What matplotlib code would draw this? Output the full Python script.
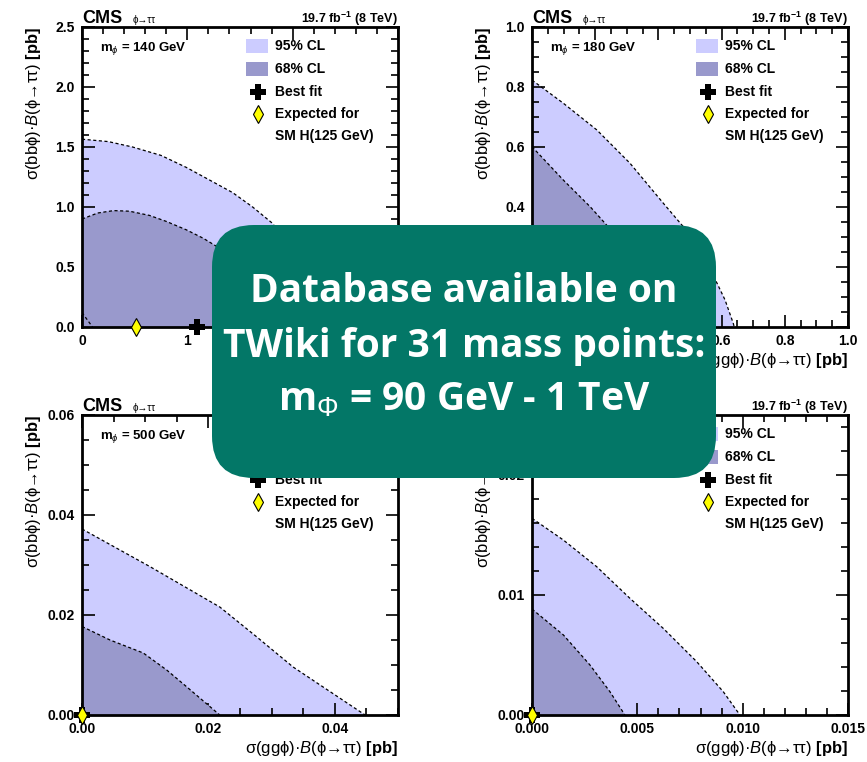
import numpy as np
import matplotlib.pyplot as plt
from matplotlib.patches import Rectangle, FancyBboxPatch
from matplotlib.ticker import MultipleLocator, FormatStrFormatter

plt.rcParams['font.family'] = ['Liberation Sans', 'DejaVu Sans']
plt.rcParams['mathtext.fontset'] = 'custom'
plt.rcParams['mathtext.rm'] = 'Liberation Sans'
plt.rcParams['mathtext.it'] = 'Liberation Sans:italic'
plt.rcParams['mathtext.bf'] = 'Liberation Sans:bold'

# panel data
masses = ['140', '180', '500', '1000']

cl95_x_140 = [0.0, 0.25, 0.48, 0.75, 0.99, 1.20, 1.43, 1.62, 1.80, 1.95, 2.10, 2.22, 2.32, 2.38, 2.40]
cl95_y_140 = [1.565, 1.545, 1.50, 1.43, 1.33, 1.23, 1.12, 1.00, 0.87, 0.72, 0.55, 0.38, 0.20, 0.08, 0.0]
cl68_x_140 = [0.0, 0.15, 0.30, 0.45, 0.64, 0.80, 0.99, 1.15, 1.30, 1.45, 1.60, 1.72, 1.80, 1.86, 1.88]
cl68_y_140 = [0.90, 0.95, 0.97, 0.965, 0.93, 0.88, 0.81, 0.74, 0.66, 0.56, 0.45, 0.32, 0.20, 0.09, 0.0]
inner_x_140 = [0.0, 0.05, 0.10]
inner_y_140 = [0.12, 0.06, 0.0]

cl95_x_180 = [0.0, 0.099, 0.205, 0.31, 0.416, 0.479, 0.53, 0.57, 0.611, 0.637, 0.64]
cl95_y_180 = [0.823, 0.746, 0.657, 0.546, 0.412, 0.334, 0.26, 0.18, 0.09, 0.012, 0.0]
cl68_x_180 = [0.0, 0.099, 0.184, 0.236, 0.29, 0.33, 0.36, 0.37]
cl68_y_180 = [0.601, 0.49, 0.401, 0.34, 0.24, 0.14, 0.05, 0.0]

cl95_x_500 = [0.0, 0.01076, 0.0218, 0.0276, 0.0334, 0.0448]
cl95_y_500 = [0.0372, 0.02967, 0.0216, 0.01567, 0.0096, 0.0]
cl68_x_500 = [0.0, 0.00443, 0.0097, 0.0134, 0.0166, 0.0218]
cl68_y_500 = [0.0177, 0.0150, 0.0124, 0.0090, 0.0056, 0.0]

cl95_x_1000 = [0.0, 0.00149, 0.00307, 0.00465, 0.00623, 0.00782, 0.00908, 0.00987]
cl95_y_1000 = [0.01639, 0.01458, 0.01236, 0.00972, 0.00722, 0.00444, 0.00194, 0.0]
cl68_x_1000 = [0.0, 0.00149, 0.00275, 0.0037, 0.00441]
cl68_y_1000 = [0.00883, 0.00667, 0.00417, 0.00194, 0.0]

best_fit = [(1.09, 0.0), (0.15, 0.0), (0.0, 0.0), (0.0, 0.0)]
sm_expected = [(0.51, 0.0), (0.03, 0.0), (0.0, 0.0), (0.0, 0.0)]

xlims = [3.0, 1.0, 0.05, 0.015]
ylims = [2.5, 1.0, 0.06, 0.025]
x_major = [1.0, 0.2, 0.02, 0.005]
x_minor = [0.2, 0.05, 0.005, 0.001]
y_major = [0.5, 0.2, 0.02, 0.01]
y_minor = [0.1, 0.05, 0.005, 0.002]
x_fmt = ['%.0f', '%.1f', '%.2f', '%.3f']
y_fmt = ['%.1f', '%.1f', '%.2f', '%.2f']

curves95 = [(cl95_x_140, cl95_y_140), (cl95_x_180, cl95_y_180),
            (cl95_x_500, cl95_y_500), (cl95_x_1000, cl95_y_1000)]
curves68 = [(cl68_x_140, cl68_y_140), (cl68_x_180, cl68_y_180),
            (cl68_x_500, cl68_y_500), (cl68_x_1000, cl68_y_1000)]

c95 = '#ccccff'
c68 = '#9999cc'

W, H = 867, 762
fig = plt.figure(figsize=(W / 100, H / 100), dpi=100)

# axes boxes in pixels: left, top
boxes = [(82, 27), (532, 27), (82, 415), (532, 415)]
aw, ah = 316, 300

ylab = r'$\mathrm{σ(bbϕ)·}\mathit{B}\mathrm{(ϕ→ττ)}\ \mathbf{[pb]}$'
xlab = r'$\mathrm{σ(ggϕ)·}\mathit{B}\mathrm{(ϕ→ττ)}\ \mathbf{[pb]}$'

for i in range(4):
    l, t = boxes[i]
    ax = fig.add_axes([l / W, (H - t - ah) / H, aw / W, ah / H])
    ax.set_xlim(0, xlims[i])
    ax.set_ylim(0, ylims[i])

    x95, y95 = curves95[i]
    x68, y68 = curves68[i]
    ax.fill(np.r_[0, x95], np.r_[0, y95], color=c95, lw=0, zorder=1)
    ax.fill(np.r_[0, x68], np.r_[0, y68], color=c68, lw=0, zorder=2)
    ax.plot(x95, y95, color='black', ls=(0, (2.5, 2)), lw=0.9, zorder=3)
    ax.plot(x68, y68, color='black', ls=(0, (2.5, 2)), lw=0.9, zorder=3)
    if i == 0:
        ax.plot(inner_x_140, inner_y_140, color='black', ls=(0, (2.5, 2)), lw=0.9, zorder=3)

    ax.plot(*best_fit[i], marker='P', ms=12, color='black', mew=0, clip_on=False, zorder=8)
    ax.plot(*sm_expected[i], marker='d', ms=9, mfc='#ffff00', mec='black', mew=0.8,
            clip_on=False, zorder=9)

    ax.xaxis.set_major_locator(MultipleLocator(x_major[i]))
    ax.xaxis.set_minor_locator(MultipleLocator(x_minor[i]))
    ax.yaxis.set_major_locator(MultipleLocator(y_major[i]))
    ax.yaxis.set_minor_locator(MultipleLocator(y_minor[i]))
    ax.xaxis.set_major_formatter(FormatStrFormatter(x_fmt[i]))
    ax.yaxis.set_major_formatter(FormatStrFormatter(y_fmt[i]))
    ax.tick_params(which='both', direction='in', top=True, right=True, width=1.2)
    ax.tick_params(which='major', length=9, labelsize=10, pad=5)
    ax.tick_params(which='minor', length=5)
    for lb in ax.get_xticklabels() + ax.get_yticklabels():
        lb.set_fontweight('bold')
    for sp in ax.spines.values():
        sp.set_linewidth(2)
        sp.set_zorder(7)

    # header texts
    ax.text(0.0, 1.012, 'CMS', transform=ax.transAxes, fontsize=13, fontweight='bold',
            va='baseline', ha='left')
    ax.text(0.161, 1.012, 'ϕ→ττ', transform=ax.transAxes, fontsize=7, va='baseline', ha='left')
    ax.text(1.0, 1.012, r'19.7 fb$^{\mathbf{-1}}$ (8 TeV)', transform=ax.transAxes,
            fontsize=9, fontweight='bold', va='baseline', ha='right')
    ax.text(0.057, 0.927, r'm$_{ϕ}$ = ' + masses[i] + ' GeV', transform=ax.transAxes,
            fontsize=9.5, fontweight='bold', va='center', ha='left')

    # legend
    ax.add_patch(Rectangle((0.519, 0.913), 0.07, 0.047, transform=ax.transAxes,
                           color=c95, lw=0, zorder=4))
    ax.add_patch(Rectangle((0.519, 0.837), 0.07, 0.047, transform=ax.transAxes,
                           color=c68, lw=0, zorder=4))
    ax.plot(0.557, 0.783, marker='P', ms=12, color='black', mew=0,
            transform=ax.transAxes, zorder=4)
    ax.plot(0.557, 0.710, marker='d', ms=9, mfc='#ffff00', mec='black', mew=0.8,
            transform=ax.transAxes, zorder=4)
    leg_y = [0.937, 0.860, 0.783, 0.710, 0.637]
    leg_t = ['95% CL', '68% CL', 'Best fit', 'Expected for', 'SM H(125 GeV)']
    for yy, tt in zip(leg_y, leg_t):
        ax.text(0.61, yy, tt, transform=ax.transAxes, fontsize=10, fontweight='bold',
                va='center', ha='left', zorder=4)

    # axis titles
    ax.text(-0.153, 1.0, ylab, transform=ax.transAxes, rotation=90, fontsize=12,
            ha='center', va='top')
    ax.text(1.0, -0.113, xlab, transform=ax.transAxes, fontsize=12,
            ha='right', va='center')

# overlay banner
ov = fig.add_axes([0, 0, 1, 1], zorder=20)
ov.set_xlim(0, W)
ov.set_ylim(H, 0)
ov.axis('off')
ov.add_patch(FancyBboxPatch((212, 225), 504, 253, boxstyle='round,pad=0,rounding_size=42',
                            fc='#037767', ec='none'))
banner = ['Database available on', 'TWiki for 31 mass points:',
          r'm$_{Φ}$ = 90 GeV - 1 TeV']
for yy, tt in zip([292, 347, 400], banner):
    ov.text(464, yy, tt, color='white', fontsize=28, fontweight='bold',
            family=['Open Sans', 'DejaVu Sans'], ha='center', va='center')

fig.savefig('out.png', dpi=100)
